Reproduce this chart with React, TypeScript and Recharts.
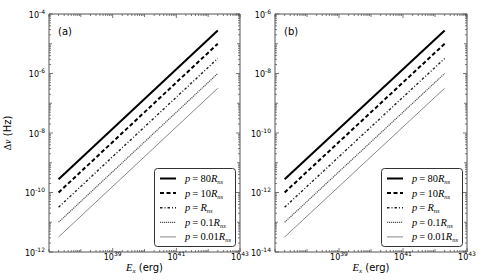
import React from 'react';
import { LineChart, Line, XAxis, YAxis, ReferenceLine, Legend, Label } from 'recharts';

// ---- data ----
const energy = [2e37, 2e42];
const coeffLabels = ['80', '10', '', '0.1', '0.01'];
const seriesKeys = ['s80', 's10', 's1', 's01', 's001'];

// panel (a)
const a80 = [2.8e-10, 2.8e-5];
const a10 = [1e-10, 1e-5];
const a1 = [3.2e-11, 3.2e-6];
const a01 = [1e-11, 1e-6];
const a001 = [3.2e-12, 3.2e-7];

// panel (b)
const b80 = [2.8e-12, 2.8e-7];
const b10 = [1e-12, 1e-7];
const b1 = [3.2e-13, 3.2e-8];
const b01 = [1e-13, 1e-8];
const b001 = [3.2e-14, 3.2e-9];

const xLabelExps = [39, 41, 43];
const yLabelExpsA = [-4, -6, -8, -10, -12];
const yLabelExpsB = [-6, -8, -10, -12, -14];

const xDomain = [1e37, 1e43];
const yDomainA = [1e-12, 1e-4];
const yDomainB = [1e-14, 1e-6];

const buildRows = (cols: number[][]) =>
  energy.map((e, i) => {
    const row: any = { e };
    seriesKeys.forEach((k, j) => {
      row[k] = cols[j][i];
    });
    return row;
  });

const rowsA = buildRows([a80, a10, a1, a01, a001]);
const rowsB = buildRows([b80, b10, b1, b01, b001]);

// ---- styles ----
const lineStyles = [
  { stroke: '#000', width: 2, dash: undefined as string | undefined },
  { stroke: '#000', width: 2, dash: '4 2.5' },
  { stroke: '#222', width: 1.4, dash: '2.5 2 1 2' },
  { stroke: '#555', width: 1.2, dash: '1.2 0.8' },
  { stroke: '#888', width: 1, dash: undefined as string | undefined },
];

const FRAME = '#555';
const PLOT_H = 238;
const SANS = 'DejaVu Sans, sans-serif';
const SERIF = 'Liberation Serif, serif';

const logTicks = (minExp: number, maxExp: number) => {
  const t: number[] = [];
  for (let e = minExp; e <= maxExp; e++) {
    for (let m = 1; m <= 9; m++) {
      if (e === maxExp && m > 1) break;
      t.push(m * Math.pow(10, e));
    }
  }
  return t;
};

const decadeInfo = (v: number) => {
  const lg = Math.log10(v);
  const exp = Math.round(lg);
  return { isDecade: Math.abs(lg - exp) < 1e-6, exp };
};

const makeXTick = (plotH: number) => (props: any) => {
  const { x, y, payload } = props;
  const { isDecade, exp } = decadeInfo(payload.value);
  const labeled = isDecade && xLabelExps.includes(exp);
  const len = labeled ? 4 : isDecade ? 3 : 2;
  return (
    <g>
      <line x1={x} y1={y} x2={x} y2={y - len} stroke={FRAME} strokeWidth={0.8} />
      <line x1={x} y1={y - plotH} x2={x} y2={y - plotH + len} stroke={FRAME} strokeWidth={0.8} />
      {labeled && (
        <text x={x} y={y + 8} textAnchor="middle" fontFamily={SANS} fontSize={8} fill="#000">
          10<tspan dy={-4} fontSize={6}>{exp}</tspan>
        </text>
      )}
    </g>
  );
};

const makeYTick = (labels: number[], plotW: number) => (props: any) => {
  const { x, y, payload } = props;
  const { isDecade, exp } = decadeInfo(payload.value);
  const labeled = isDecade && labels.includes(exp);
  const len = labeled ? 4 : isDecade ? 3 : 2;
  return (
    <g>
      <line x1={x} y1={y} x2={x + len} y2={y} stroke={FRAME} strokeWidth={0.8} />
      <line x1={x + plotW} y1={y} x2={x + plotW - len} y2={y} stroke={FRAME} strokeWidth={0.8} />
      {labeled && (
        <text x={x - 4} y={y + 3.5} textAnchor="end" fontFamily={SANS} fontSize={8} fill="#000">
          10<tspan dy={-4} fontSize={6}>{exp}</tspan>
        </text>
      )}
    </g>
  );
};

const renderLegend = () => {
  return (
    <svg width={82} height={79} style={{ display: 'block' }}>
      <rect x={0.5} y={0.5} width={81} height={78} rx={3} ry={3} fill="#fff" stroke="#333" strokeWidth={1} />
      {seriesKeys.map((k, i) => {
        const st = lineStyles[i];
        const cy = 10.5 + i * 14.6;
        const coeff = coeffLabels[i];
        return (
          <g key={k}>
            <line x1={6} y1={cy} x2={22} y2={cy} stroke={st.stroke} strokeWidth={st.width} strokeDasharray={st.dash} />
            <text x={31} y={cy + 3.5} fontFamily={SERIF} fontSize={10.5} fill="#000">
              <tspan fontStyle="italic">p</tspan>
              {'\u2009=\u2009' + coeff}
              <tspan fontStyle="italic">R</tspan>
              <tspan fontStyle="italic" fontSize={6.5} dy={2}>ns</tspan>
            </text>
          </g>
        );
      })}
    </svg>
  );
};

const Panel = ({
  rows,
  yDomain,
  yLabels,
  width,
  yAxisWidth,
  rightMargin,
  tag,
  showYLabel,
}: any) => {
  const plotW = width - yAxisWidth - rightMargin;
  const minYExp = Math.round(Math.log10(yDomain[0]));
  const maxYExp = Math.round(Math.log10(yDomain[1]));
  return (
    <LineChart
      width={width}
      height={280}
      data={rows}
      margin={{ top: 14, right: rightMargin, bottom: 0, left: 0 }}
    >
      <XAxis
        dataKey="e"
        type="number"
        scale="log"
        domain={xDomain}
        allowDataOverflow
        ticks={logTicks(37, 43)}
        interval={0}
        tickLine={false}
        tickSize={0}
        tickMargin={0}
        axisLine={{ stroke: FRAME, strokeWidth: 1 }}
        tick={makeXTick(PLOT_H)}
        height={28}
      >
        <Label
          content={() => (
            <text x={yAxisWidth + plotW / 2} y={271} textAnchor="middle" fontSize={10} fill="#000">
              <tspan fontFamily={SERIF} fontStyle="italic" fontSize={10.5}>E</tspan>
              <tspan fontFamily={SERIF} fontStyle="italic" fontSize={7} dy={2}>x</tspan>
              <tspan fontFamily={SANS} dy={-2}>{' (erg)'}</tspan>
            </text>
          )}
        />
        <Label
          content={() => (
            <text x={yAxisWidth + 9} y={35} fontFamily={SANS} fontSize={10} fill="#000">
              {tag}
            </text>
          )}
        />
      </XAxis>
      <YAxis
        type="number"
        scale="log"
        domain={yDomain}
        allowDataOverflow
        ticks={logTicks(minYExp, maxYExp)}
        interval={0}
        tickLine={false}
        tickSize={0}
        tickMargin={0}
        axisLine={{ stroke: FRAME, strokeWidth: 1 }}
        tick={makeYTick(yLabels, plotW)}
        width={yAxisWidth}
      >
        {showYLabel && (
          <Label
            content={() => (
              <text transform="translate(11,133) rotate(-90)" textAnchor="middle" fontSize={10} fill="#000">
                <tspan fontFamily={SERIF}>Δ</tspan>
                <tspan fontFamily={SERIF} fontStyle="italic">ν</tspan>
                <tspan fontFamily={SANS}>{' (Hz)'}</tspan>
              </text>
            )}
          />
        )}
      </YAxis>
      <ReferenceLine y={yDomain[1]} stroke={FRAME} strokeWidth={1} ifOverflow="extendDomain" />
      <ReferenceLine x={xDomain[1]} stroke={FRAME} strokeWidth={1} ifOverflow="extendDomain" />
      {seriesKeys.map((k, i) => (
        <Line
          key={k}
          dataKey={k}
          name={k}
          type="linear"
          stroke={lineStyles[i].stroke}
          strokeWidth={lineStyles[i].width}
          strokeDasharray={lineStyles[i].dash}
          dot={false}
          activeDot={false}
          isAnimationActive={false}
        />
      ))}
      <Legend
        layout="vertical"
        align="center"
        verticalAlign="middle"
        wrapperStyle={{
          position: 'absolute',
          left: yAxisWidth + plotW - 86,
          top: 168,
          width: 82,
          height: 79,
        }}
        content={renderLegend}
      />
    </LineChart>
  );
};

export default function App() {
  return (
    <div style={{ position: 'absolute', left: 0, top: 0, width: 491, height: 280, background: '#fff' }}>
      <div style={{ position: 'absolute', left: 0, top: 0 }}>
        <Panel
          rows={rowsA}
          yDomain={yDomainA}
          yLabels={yLabelExpsA}
          width={262}
          yAxisWidth={49}
          rightMargin={22}
          tag="(a)"
          showYLabel
        />
      </div>
      <div style={{ position: 'absolute', left: 240, top: 0 }}>
        <Panel
          rows={rowsB}
          yDomain={yDomainB}
          yLabels={yLabelExpsB}
          width={251}
          yAxisWidth={35}
          rightMargin={24}
          tag="(b)"
          showYLabel={false}
        />
      </div>
    </div>
  );
}
